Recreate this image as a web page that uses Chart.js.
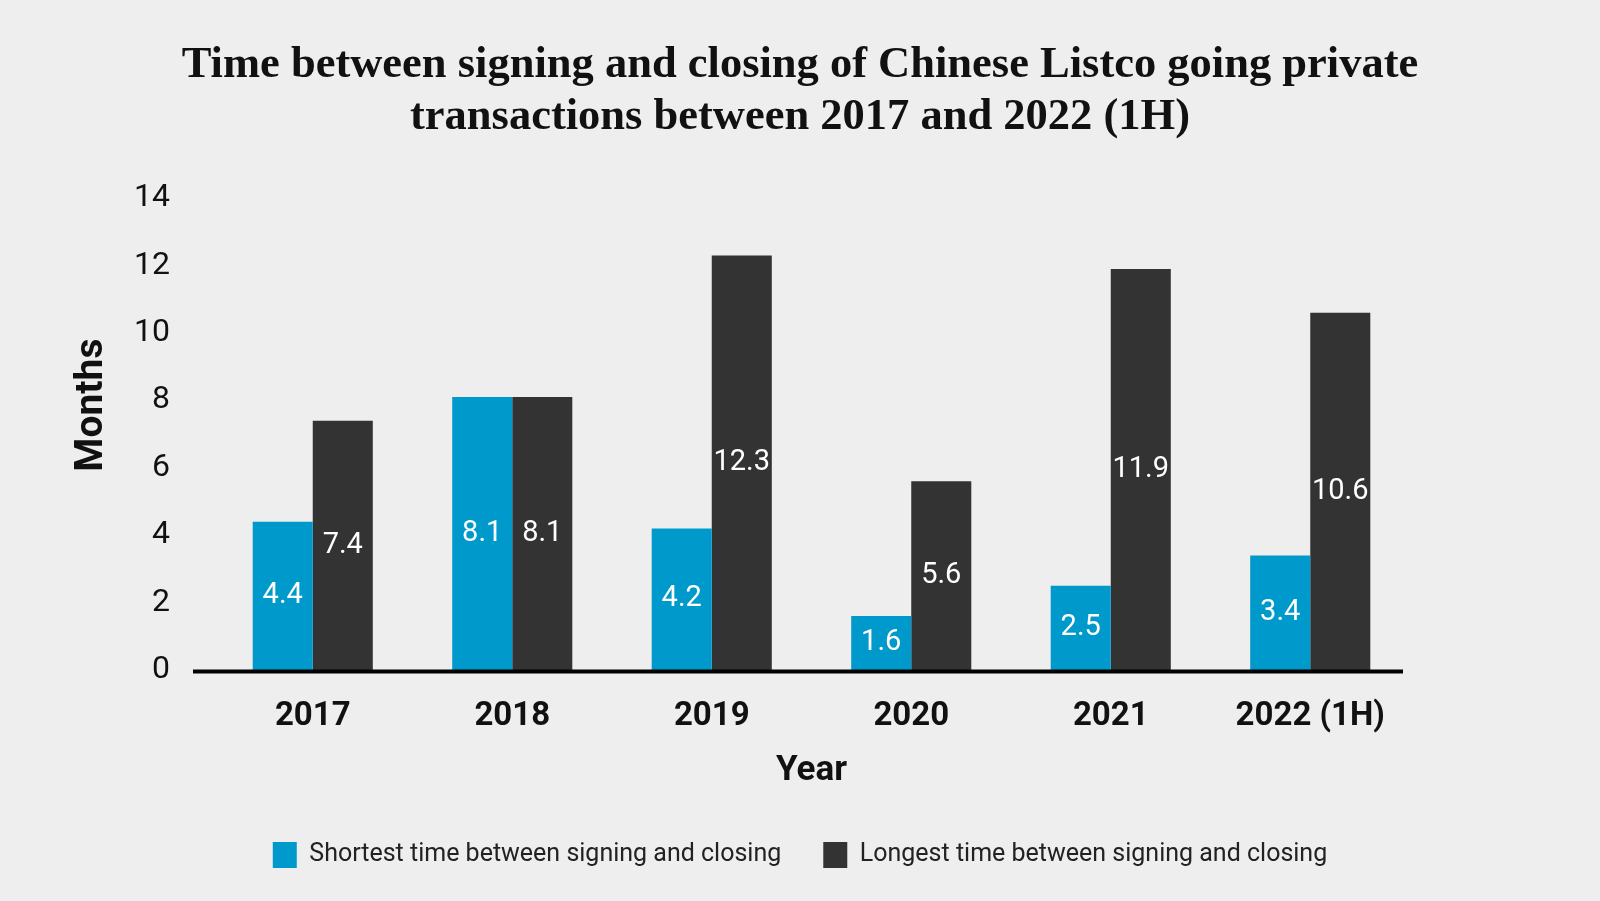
<!DOCTYPE html>
<html>
<head>
<meta charset="utf-8">
<title>Time between signing and closing</title>
<script src="https://cdn.jsdelivr.net/npm/chart.js@4.4.1/dist/chart.umd.min.js"></script>
<style>
  html, body { margin: 0; padding: 0; background: #eeeeee; }
  #chart { display: block; }
</style>
</head>
<body>
<canvas id="chart" width="1600" height="901"></canvas>
<script>
/* ---------- data ---------- */
const years = ['2017', '2018', '2019', '2020', '2021', '2022 (1H)'];
const shortest = [4.4, 8.1, 4.2, 1.6, 2.5, 3.4];
const longest = [7.4, 8.1, 12.3, 5.6, 11.9, 10.6];
const yTicks = [0, 2, 4, 6, 8, 10, 12, 14];

const BLUE = '#0099cc';
const DARK = '#333333';
const SANS = "Roboto, 'Liberation Sans', sans-serif";

// thick black baseline under the bars
const baselinePlugin = {
  id: 'baseline',
  afterDatasetsDraw(chart) {
    const { ctx, chartArea, scales } = chart;
    const y = scales.y.getPixelForValue(0) + 1.5;
    ctx.save();
    ctx.strokeStyle = '#000';
    ctx.lineWidth = 4;
    ctx.beginPath();
    ctx.moveTo(chartArea.left - 20, y);
    ctx.lineTo(chartArea.right - 7, y);
    ctx.stroke();
    ctx.restore();
  }
};

// white value labels centred inside each bar
const valueLabels = {
  id: 'valueLabels',
  afterDatasetsDraw(chart) {
    const { ctx } = chart;
    ctx.save();
    ctx.fillStyle = '#ffffff';
    ctx.font = '29px ' + SANS;
    ctx.textAlign = 'center';
    ctx.textBaseline = 'middle';
    chart.data.datasets.forEach((ds, i) => {
      chart.getDatasetMeta(i).data.forEach((bar, j) => {
        const { x, y, base } = bar.getProps(['x', 'y', 'base'], true);
        ctx.fillText(ds.data[j].toFixed(1), x, (y + base) / 2);
      });
    });
    ctx.restore();
  }
};

// rotated y-axis title, sits a little above the middle of the plot
const yTitle = {
  id: 'yTitle',
  afterDraw(chart) {
    const { ctx, chartArea } = chart;
    ctx.save();
    ctx.translate(chartArea.left - 121, (chartArea.top + chartArea.bottom) / 2 - 29);
    ctx.rotate(-Math.PI / 2);
    ctx.fillStyle = '#111';
    ctx.font = 'bold 39px ' + SANS;
    ctx.textAlign = 'center';
    ctx.textBaseline = 'middle';
    ctx.fillText('Months', 0, 0);
    ctx.restore();
  }
};

new Chart(document.getElementById('chart'), {
  type: 'bar',
  data: {
    labels: years,
    datasets: [
      {
        label: 'Shortest time between signing and closing',
        data: shortest,
        backgroundColor: BLUE,
        categoryPercentage: 0.602,
        barPercentage: 1
      },
      {
        label: 'Longest time between signing and closing',
        data: longest,
        backgroundColor: DARK,
        categoryPercentage: 0.602,
        barPercentage: 1
      }
    ]
  },
  options: {
    responsive: false,
    devicePixelRatio: 1,
    animation: false,
    layout: { padding: { left: 20, right: 20, top: 0, bottom: 23 } },
    plugins: {
      title: {
        display: true,
        text: [
          'Time between signing and closing of Chinese Listco going private',
          'transactions between 2017 and 2022 (1H)'
        ],
        color: '#111',
        font: { family: "'Liberation Serif', serif", size: 44.5, weight: 'bold', lineHeight: 1.16 },
        padding: { top: 40, bottom: 55 }
      },
      legend: {
        position: 'bottom',
        labels: {
          color: '#222',
          font: { family: SANS, size: 25 },
          boxWidth: 24,
          boxHeight: 26,
          padding: 42
        }
      },
      tooltip: { enabled: false }
    },
    scales: {
      x: {
        grid: { display: false, drawTicks: false },
        border: { display: false },
        ticks: { color: '#111', padding: 27, font: { family: SANS, size: 33, weight: 'bold' } },
        title: {
          display: true,
          text: 'Year',
          color: '#111',
          font: { family: SANS, size: 35, weight: 'bold' },
          padding: { top: 0, bottom: 8 }
        },
        afterFit: s => { s.height = 130; }
      },
      y: {
        min: 0,
        max: 14,
        afterBuildTicks: s => { s.ticks = yTicks.map(v => ({ value: v })); },
        grid: { display: false, drawTicks: false },
        border: { display: false },
        ticks: { color: '#111', padding: 43, font: { family: SANS, size: 32 } },
        afterFit: s => { s.width = 193; }
      },
      // empty right axis, only keeps the plot area clear of the right margin
      yRight: {
        position: 'right',
        display: true,
        grid: { display: false, drawTicks: false },
        border: { display: false },
        ticks: { display: false },
        afterFit: s => { s.width = 170; }
      }
    }
  },
  plugins: [baselinePlugin, valueLabels, yTitle]
});
</script>
</body>
</html>
